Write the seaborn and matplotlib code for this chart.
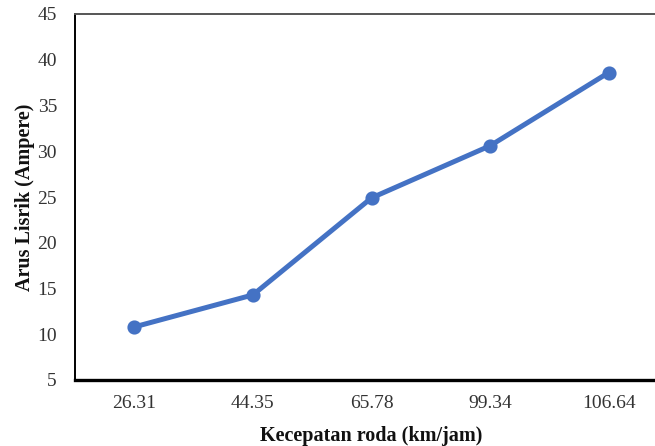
import matplotlib
matplotlib.use("Agg")
import matplotlib.pyplot as plt
import seaborn as sns
import pandas as pd

# Wheel speed (km/h) against electric current (A)
speed_labels = ["26.31", "44.35", "65.78", "99.34", "106.64"]
current_values = [10.8, 14.3, 24.9, 30.6, 38.6]
y_ticks = [5, 10, 15, 20, 25, 30, 35, 40, 45]

df = pd.DataFrame({"speed": speed_labels, "current": current_values})

sns.set_theme(style="white")
plt.rcParams["font.family"] = ["Liberation Serif", "DejaVu Serif"]

fig = plt.figure(figsize=(6.55, 4.46), dpi=100)
ax = fig.add_axes([75 / 655, 1 - 380 / 446, (668 - 75) / 655, (380 - 14) / 446])

sns.pointplot(data=df, x="speed", y="current", ax=ax, color="#4472C4",
              linewidth=3.6, markersize=7.5, order=speed_labels)

ax.set_ylim(5, 45)
ax.set_yticks(y_ticks)
ax.set_xlim(-0.5, len(speed_labels) - 0.5)

ax.tick_params(axis="both", length=0, labelsize=14, colors="#333333")
ax.tick_params(axis="y", pad=13)
ax.tick_params(axis="x", pad=11)

ax.set_xlabel("Kecepatan roda (km/jam)", fontsize=14.5, fontweight="bold",
              color="#111111", labelpad=10)
ax.set_ylabel("Arus Lisrik (Ampere)", fontsize=14.5, fontweight="bold",
              color="#111111", labelpad=2)

for side in ["left", "bottom", "top", "right"]:
    ax.spines[side].set_visible(True)
ax.spines["bottom"].set_color("black")
ax.spines["bottom"].set_linewidth(2.4)
ax.spines["left"].set_color("black")
ax.spines["left"].set_linewidth(1.4)
ax.spines["top"].set_color("#555555")
ax.spines["top"].set_linewidth(1.4)
ax.grid(False)

fig.savefig("out.png", dpi=100)
